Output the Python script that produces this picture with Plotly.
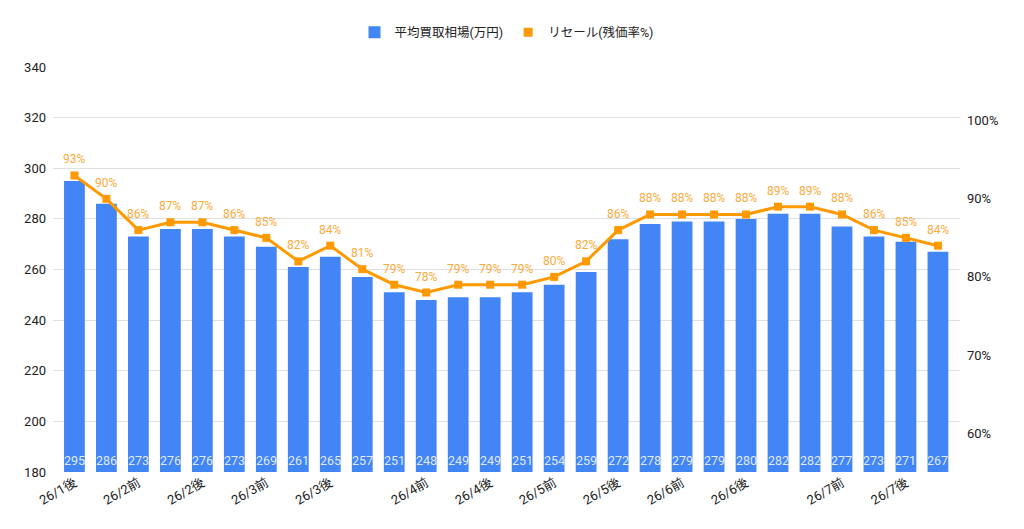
import plotly.graph_objects as go

# ---- data ----
period_labels = ["26/1後", "", "26/2前", "", "26/2後", "", "26/3前", "", "26/3後", "", "",
                 "26/4前", "", "26/4後", "", "26/5前", "", "26/5後", "", "26/6前", "",
                 "26/6後", "", "", "26/7前", "", "26/7後", ""]
avg_price = [295, 286, 273, 276, 276, 273, 269, 261, 265, 257, 251, 248, 249, 249,
             251, 254, 259, 272, 278, 279, 279, 280, 282, 282, 277, 273, 271, 267]
resale_pct = [93, 90, 86, 87, 87, 86, 85, 82, 84, 81, 79, 78, 79, 79,
              79, 80, 82, 86, 88, 88, 88, 88, 89, 89, 88, 86, 85, 84]
bar_name = "平均買取相場(万円)"
line_name = "リセール(残価率%)"
left_ticks = [180, 200, 220, 240, 260, 280, 300, 320, 340]
right_ticks = [60, 70, 80, 90, 100]

x = list(range(len(avg_price)))
tickvals = [i for i, l in enumerate(period_labels) if l]
ticktext = [l for l in period_labels if l]
y_min, y_max = left_ticks[0], left_ticks[-1]

FONT = "Roboto, 'Noto Sans CJK JP', sans-serif"
BLUE = "#4285F4"
ORANGE = "#FF9900"

fig = go.Figure()
fig.add_trace(go.Bar(
    x=x, y=avg_price, name=bar_name, marker=dict(color=BLUE, line=dict(width=0)),
    width=0.65, showlegend=True,
))
fig.add_trace(go.Scatter(
    x=x, y=resale_pct, name=line_name, yaxis="y2", mode="lines+markers",
    line=dict(color=ORANGE, width=3),
    marker=dict(symbol="square", size=8, color=ORANGE),
    cliponaxis=False, showlegend=False,
))
# legend swatch for the line series (square like the reference)
fig.add_trace(go.Scatter(
    x=[None], y=[None], yaxis="y2", mode="markers", name=line_name,
    marker=dict(symbol="square", size=9, color=ORANGE), showlegend=True,
))

annotations = []
for xi, v in zip(x, avg_price):
    annotations.append(dict(
        x=xi, y=y_min, xref="x", yref="y", text=str(v), showarrow=False,
        yanchor="bottom", yshift=2,
        font=dict(color="rgba(255,255,255,0.85)", size=12.5, family=FONT)))
for xi, p in zip(x, resale_pct):
    annotations.append(dict(
        x=xi, y=p, xref="x", yref="y2", text=f"{p}%", showarrow=False,
        yanchor="bottom", yshift=7,
        font=dict(color="#FBAA3A", size=12, family=FONT)))

fig.update_layout(
    width=1024, height=529,
    margin=dict(l=53, r=64, t=67, b=57),
    paper_bgcolor="white", plot_bgcolor="white",
    font=dict(family=FONT, size=12, color="#222222"),
    showlegend=True,
    annotations=annotations,
    legend=dict(orientation="h", x=0.5, xanchor="center", y=0.91, yanchor="bottom",
                yref="container", font=dict(size=12.5, color="#222222"),
                itemwidth=30, tracegroupgap=0),
    xaxis=dict(
        range=[-0.67, 27.69], tickmode="array", tickvals=tickvals, ticktext=ticktext,
        tickangle=-30, showgrid=False, zeroline=False, showline=False, ticks="",
        tickfont=dict(size=13, color="#222222"),
    ),
    yaxis=dict(
        range=[y_min, y_max], tickmode="array", tickvals=left_ticks,
        showgrid=True, gridcolor="#E0E0E0", gridwidth=1, zeroline=False,
        ticks="", ticklabelstandoff=6, tickfont=dict(size=13, color="#222222"),
    ),
    yaxis2=dict(
        overlaying="y", side="right", range=[55.0, 106.9], tickmode="array",
        tickvals=right_ticks, ticktext=[f"{v}%" for v in right_ticks],
        showgrid=False, zeroline=False, ticks="", ticklabelstandoff=6,
        tickfont=dict(size=13, color="#222222"),
    ),
)
fig.write_html("out.html")
